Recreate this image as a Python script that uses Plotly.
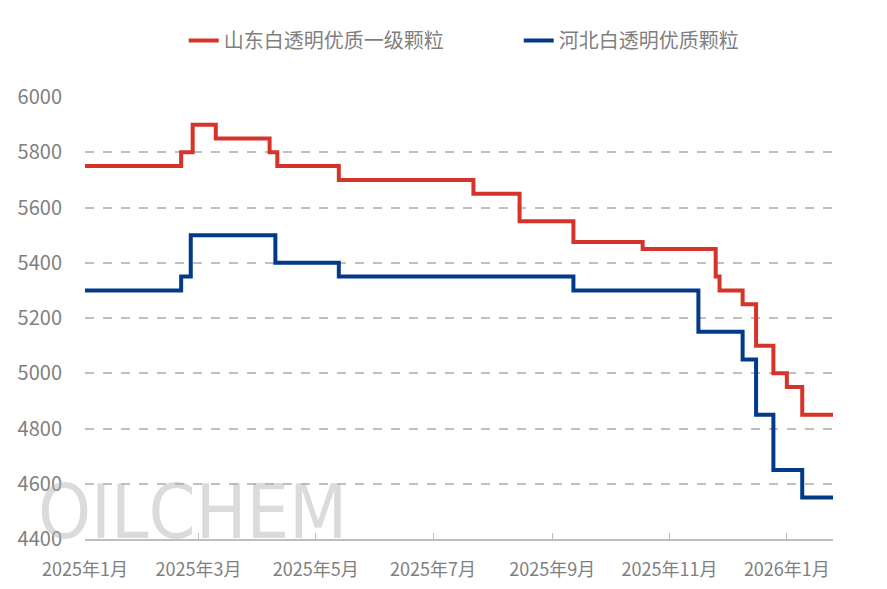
import plotly.graph_objects as go

# change points of the daily price series (value holds until the next date)
sd_dates = ["2025-01-01", "2025-02-20", "2025-02-26", "2025-03-10", "2025-04-07", "2025-04-11",
            "2025-05-13", "2025-07-22", "2025-08-15", "2025-09-12", "2025-10-18", "2025-11-25",
            "2025-11-27", "2025-12-09", "2025-12-16", "2025-12-25", "2026-01-01", "2026-01-09",
            "2026-01-25"]
sd_values = [5750, 5800, 5900, 5850, 5800, 5750,
             5700, 5650, 5550, 5475, 5450, 5350,
             5300, 5250, 5100, 5000, 4950, 4850,
             4850]

hb_dates = ["2025-01-01", "2025-02-20", "2025-02-25", "2025-04-10", "2025-05-13", "2025-09-12",
            "2025-11-16", "2025-12-09", "2025-12-16", "2025-12-25", "2026-01-09", "2026-01-25"]
hb_values = [5300, 5350, 5500, 5400, 5350, 5300,
             5150, 5050, 4850, 4650, 4550, 4550]

tick_dates = ["2025-01-01", "2025-03-01", "2025-05-01", "2025-07-01", "2025-09-01", "2025-11-01", "2026-01-01"]
tick_text = ["2025年1月", "2025年3月", "2025年5月", "2025年7月", "2025年9月", "2025年11月", "2026年1月"]

font_family = "Noto Sans CJK SC, Open Sans, sans-serif"

fig = go.Figure()
fig.add_trace(go.Scatter(x=sd_dates, y=sd_values, name="山东白透明优质一级颗粒", mode="lines",
                         line=dict(color="#D5342A", width=4, shape="hv")))
fig.add_trace(go.Scatter(x=hb_dates, y=hb_values, name="河北白透明优质颗粒", mode="lines",
                         line=dict(color="#023A8A", width=4, shape="hv")))

# watermark
fig.add_annotation(text="OILCHEM", xref="paper", yref="paper", x=-0.066, y=-0.042,
                   xanchor="left", yanchor="bottom", showarrow=False,
                   font=dict(family="Liberation Sans Narrow, DejaVu Sans Condensed, Liberation Sans", size=75,
                             color="rgba(175,175,175,0.45)"))

fig.update_xaxes(type="date", range=["2025-01-01", "2026-01-25"],
                 tickvals=tick_dates, ticktext=tick_text, tickangle=0,
                 showgrid=False, showline=True, linecolor="#BFBFBF", linewidth=2,
                 ticks="inside", ticklen=6, tickcolor="#BFBFBF", ticklabelstandoff=13,
                 tickfont=dict(size=18, color="#7F7F7F", family=font_family))
fig.update_yaxes(range=[4400, 6000], dtick=200, showgrid=True, gridcolor="#BFBFBF",
                 griddash="dash", gridwidth=1.5, zeroline=False, showline=False,
                 ticklabelstandoff=22,
                 tickfont=dict(size=20, color="#7F7F7F", family=font_family))

fig.update_layout(
    width=887, height=589,
    plot_bgcolor="white", paper_bgcolor="white",
    margin=dict(l=77, r=62, t=89, b=58, autoexpand=False),
    legend=dict(orientation="h", x=0.132, xanchor="left", y=1.128, yanchor="middle",
                font=dict(size=20, color="#7F7F7F", family=font_family),
                entrywidth=290, traceorder="normal"),
    font=dict(family=font_family),
)

fig.write_html("out.html")
